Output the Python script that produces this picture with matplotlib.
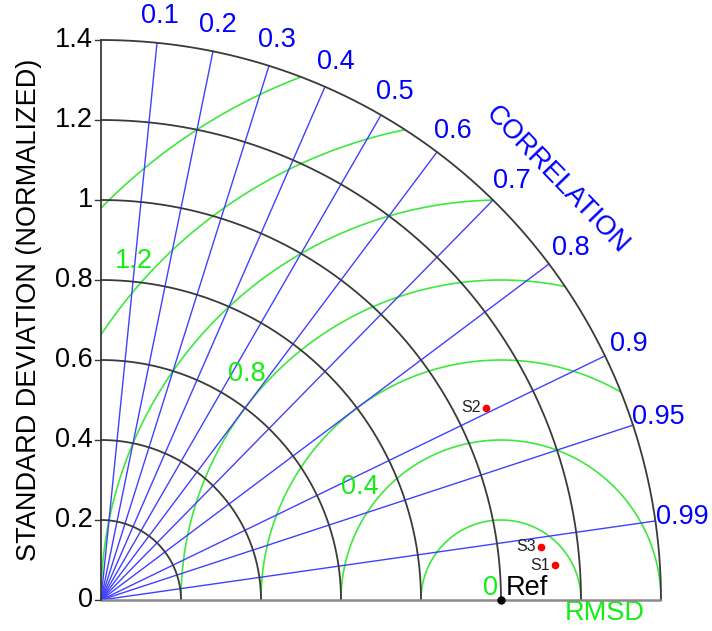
import numpy as np
import matplotlib
matplotlib.use("Agg")
import matplotlib.pyplot as plt
from matplotlib.patches import Wedge

plt.rcParams['font.family'] = ['Liberation Sans', 'DejaVu Sans']

# Correlation, standard deviation and RMSD grid values
corr_ticks = [0.1, 0.2, 0.3, 0.4, 0.5, 0.6, 0.7, 0.8, 0.9, 0.95, 0.99]
corr_labels = ['0.1', '0.2', '0.3', '0.4', '0.5', '0.6', '0.7', '0.8', '0.9', '0.95', '0.99']
std_ticks = [0.0, 0.2, 0.4, 0.6, 0.8, 1.0, 1.2, 1.4]
std_labels = ['0', '0.2', '0.4', '0.6', '0.8', '1', '1.2', '1.4']
rmsd_levels = [0.2, 0.4, 0.6, 0.8, 1.0, 1.2, 1.4]
rmsd_label_levels = [0.4, 0.8, 1.2]
rmsd_label_text = ['0.4', '0.8', '1.2']

# Reference and model statistics (normalized standard deviation, correlation)
ref_std = 1.0
model_names = ['S1', 'S2', 'S3']
model_std = [1.138, 1.075, 1.108]
model_corr = [0.9971, 0.8945, 0.9927]

std_max = 1.4
FS = 19.5
BLUE_LINE = '#4040ff'
BLUE_TEXT = '#0000ff'
GREEN_LINE = '#3ee83e'
GREEN_TEXT = '#14ee14'
GRID_BLACK = '#3a3a3a'

fig = plt.figure(figsize=(7.12, 6.31), dpi=100)
ax = fig.add_axes([0, 0, 1, 1])
ax.set_xlim(-101 / 400, 611 / 400)
ax.set_ylim(-31 / 400, 600 / 400)
ax.set_aspect('equal')
ax.axis('off')

theta = np.linspace(0, np.pi / 2, 400)

# RMSD circles around the reference point, clipped to the quarter disc
clip = Wedge((0, 0), std_max, 0, 90, transform=ax.transData, facecolor='none', edgecolor='none')
ax.add_patch(clip)
phi = np.linspace(0, np.pi, 800)
for r in rmsd_levels:
    ln, = ax.plot(ref_std + r * np.cos(phi), r * np.sin(phi), color=GREEN_LINE, lw=1.2, zorder=2)
    ln.set_clip_path(clip)

# Correlation rays
for c in corr_ticks:
    a = np.arccos(c)
    ax.plot([0, std_max * np.cos(a)], [0, std_max * np.sin(a)], color=BLUE_LINE, lw=1.0, zorder=3)

# Standard deviation arcs
for s in std_ticks[1:]:
    ax.plot(s * np.cos(theta), s * np.sin(theta), color=GRID_BLACK, lw=1.3, zorder=4)

# Axes lines
ax.plot([0, std_max], [0, 0], color='#8a8a8a', lw=1.8, zorder=5, solid_capstyle='butt')
ax.plot([0, 0], [0, std_max], color=GRID_BLACK, lw=1.3, zorder=5)
for s, lab in zip(std_ticks, std_labels):
    ax.plot([-0.016, 0], [s, s], color=GRID_BLACK, lw=1.0, zorder=5)
    ax.text(-0.02, s, lab, ha='right', va='center', fontsize=FS, color='black')

# Correlation labels
for c, lab in zip(corr_ticks, corr_labels):
    a = np.arccos(c)
    ax.text(1.467 * np.cos(a), 1.467 * np.sin(a), lab, ha='center', va='center',
            fontsize=FS, color=BLUE_TEXT)
ang = np.deg2rad(42.6)
ax.text(1.55 * np.cos(ang), 1.55 * np.sin(ang), 'CORRELATION', rotation=-46,
        rotation_mode='anchor', ha='center', va='center', fontsize=FS, color=BLUE_TEXT)

# RMSD labels
a135 = np.deg2rad(135)
for r, lab in zip(rmsd_label_levels, rmsd_label_text):
    ax.text(ref_std + r * np.cos(a135) - 0.07, r * np.sin(a135) + 0.0, lab,
            ha='center', va='center', fontsize=FS, color=GREEN_TEXT)
ax.text(ref_std - 0.008, 0.03, '0', ha='right', va='center', fontsize=FS, color=GREEN_TEXT)
ax.text(1.26, -0.032, 'RMSD', ha='center', va='center', fontsize=FS, color=GREEN_TEXT)

# Y axis title
ax.text(-0.18, 0.725, 'STANDARD DEVIATION (NORMALIZED)', rotation=90, ha='center', va='center',
        fontsize=FS, color='black')

# Reference point
ax.plot([ref_std], [0], 'o', color='black', ms=5, zorder=6, clip_on=False)
ax.text(ref_std + 0.013, 0.03, 'Ref', ha='left', va='center', fontsize=FS, color='black')

# Model points
for name, s, c in zip(model_names, model_std, model_corr):
    x, y = s * c, s * np.sin(np.arccos(c))
    ax.plot([x], [y], 'o', color='red', ms=4.5, zorder=6)
    ax.text(x - 0.012, y, name, ha='right', va='center', fontsize=11.5, color='#222222')

fig.savefig('out.png', dpi=100)
